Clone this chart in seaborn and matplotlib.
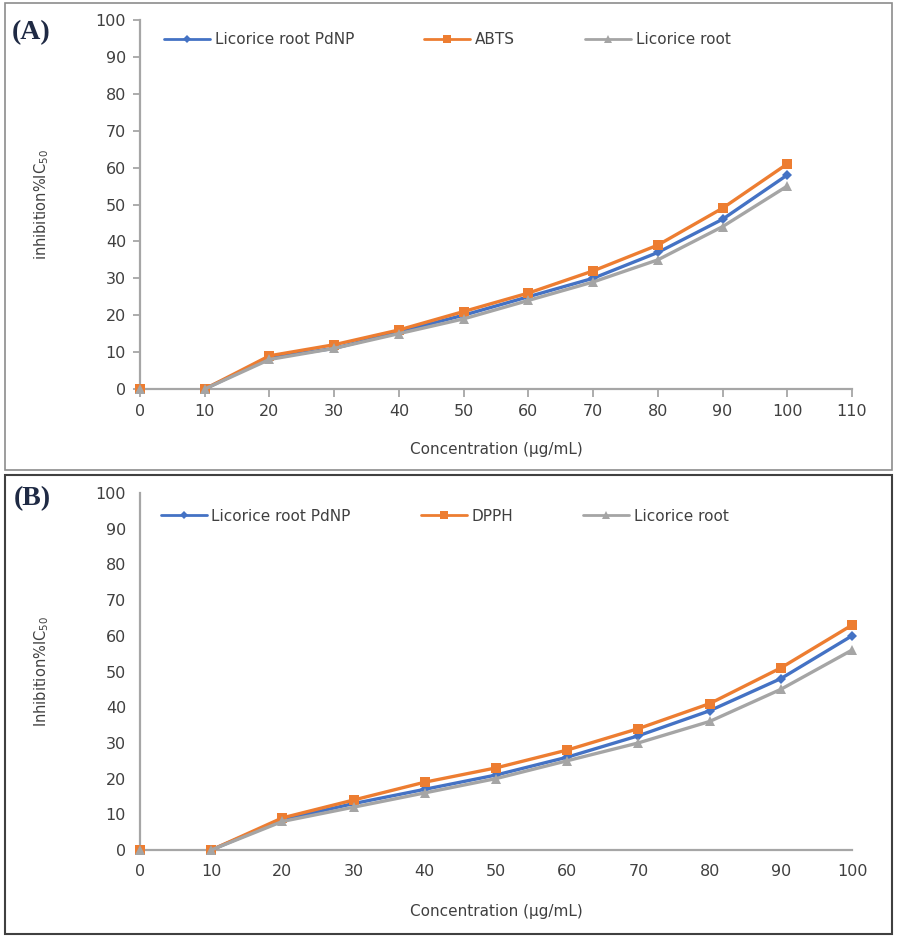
import numpy as np
import pandas as pd
import matplotlib
matplotlib.use("Agg")
import matplotlib.pyplot as plt
import seaborn as sns
from matplotlib.patches import Rectangle
from matplotlib.lines import Line2D

conc = [0, 10, 20, 30, 40, 50, 60, 70, 80, 90, 100]

a_pdnp = [0, 0, 8.5, 11, 15.5, 20, 25, 30, 37, 46, 58]
a_abts = [0, 0, 9, 12, 16, 21, 26, 32, 39, 49, 61]
a_root = [0, 0, 8, 11, 15, 19, 24, 29, 35, 44, 55]

b_pdnp = [0, 0, 8.5, 13, 17, 21, 26, 32, 39, 48, 60]
b_dpph = [0, 0, 9, 14, 19, 23, 28, 34, 41, 51, 63]
b_root = [0, 0, 8, 12, 16, 20, 25, 30, 36, 45, 56]

sns.set_theme(style="white")
plt.rcParams['font.family'] = ['DejaVu Sans']

BLUE = "#4472C4"
ORANGE = "#ED7D31"
GREY = "#A5A5A5"
AXC = "#A6A6A6"
TXT = "#404040"

fig = plt.figure(figsize=(8.97, 9.36), dpi=100)
W, H = 897, 936


def fx(px):
    return px / W


def fy(py):
    return 1 - py / H


fig.patches.append(Rectangle((fx(5), fy(470)), fx(887), 467 / H, transform=fig.transFigure,
                             fill=False, edgecolor="#8C8C8C", linewidth=1.2, zorder=0))
fig.patches.append(Rectangle((fx(5), fy(934)), fx(887), 459 / H, transform=fig.transFigure,
                             fill=False, edgecolor="#404040", linewidth=1.5, zorder=0))

ax1 = fig.add_axes([fx(140), fy(389), fx(852 - 140), (389 - 20) / H])
ax2 = fig.add_axes([fx(140), fy(850), fx(852 - 140), (850 - 493) / H])

styles = [
    dict(color=BLUE, marker="D", ms=5),
    dict(color=ORANGE, marker="s", ms=7.5),
    dict(color=GREY, marker="^", ms=7),
]


def draw(ax, series, xmax, ylabel, tickmarks, xlabelpad):
    for i in [2, 0, 1]:
        name, vals = series[i]
        st = styles[i]
        df = pd.DataFrame({"x": conc, "y": vals})
        line_df = df[df["x"] >= 10]
        sns.lineplot(data=line_df, x="x", y="y", ax=ax, color=st["color"], linewidth=2.4,
                     marker=st["marker"], markersize=st["ms"], markeredgewidth=0,
                     legend=False, zorder=3 + i)
        ax.plot(df["x"][:1], df["y"][:1], color=st["color"], marker=st["marker"],
                markersize=st["ms"], markeredgewidth=0, linestyle="none", zorder=3 + i,
                clip_on=False)
    for ln in ax.lines:
        ln.set_clip_on(False)
    ax.set_xlim(0, xmax)
    ax.set_ylim(0, 100)
    ax.set_xticks(np.arange(0, xmax + 1, 10))
    ax.set_yticks(np.arange(0, 101, 10))
    for s in ["top", "right"]:
        ax.spines[s].set_visible(False)
    for s in ["left", "bottom"]:
        ax.spines[s].set_color(AXC)
        ax.spines[s].set_linewidth(1.6)
    ax.tick_params(axis="both", colors=AXC, labelcolor=TXT, labelsize=11.5)
    if tickmarks:
        ax.tick_params(axis="x", bottom=True, direction="out", length=6, width=1.3, pad=5)
        ax.tick_params(axis="y", left=True, direction="out", length=5, width=1.3, pad=5)
    else:
        ax.tick_params(axis="both", bottom=False, left=False, length=0, pad=10)
    ax.set_xlabel("Concentration (µg/mL)", color=TXT, fontsize=11, labelpad=xlabelpad)
    ax.set_ylabel(ylabel, color=TXT, fontsize=10.5, labelpad=32)
    handles = []
    for i in range(3):
        st = styles[i]
        handles.append(Line2D([], [], color=st["color"], marker=st["marker"], markersize=st["ms"] * 0.75,
                              markeredgewidth=0, linewidth=2))
    return handles


h1 = draw(ax1, [("Licorice root PdNP", a_pdnp), ("ABTS", a_abts), ("Licorice root", a_root)],
          110, "inhibition%IC$_{50}$", True, 16)
leg1 = ax1.legend(h1, ["Licorice root PdNP", "ABTS", "Licorice root"], ncol=3, frameon=False,
                  loc="upper left", bbox_to_anchor=(0.015, 1.005), fontsize=11, handlelength=3.0,
                  columnspacing=4.6, handletextpad=0.3)
for t in leg1.get_texts():
    t.set_color(TXT)

h2 = draw(ax2, [("Licorice root PdNP", b_pdnp), ("DPPH", b_dpph), ("Licorice root", b_root)],
          100, "Inhibition%IC$_{50}$", False, 18)
leg2 = ax2.legend(h2, ["Licorice root PdNP", "DPPH", "Licorice root"], ncol=3, frameon=False,
                  loc="upper left", bbox_to_anchor=(0.01, 0.995), fontsize=11, handlelength=3.0,
                  columnspacing=4.6, handletextpad=0.3)
for t in leg2.get_texts():
    t.set_color(TXT)

fig.text(fx(12), fy(33), "(A)", fontsize=20, fontweight="bold", family="Liberation Serif",
         color="#1F2A44", va="center", ha="left")
fig.text(fx(14), fy(499), "(B)", fontsize=20, fontweight="bold", family="Liberation Serif",
         color="#1F2A44", va="center", ha="left")

fig.savefig("out.png", dpi=100)
